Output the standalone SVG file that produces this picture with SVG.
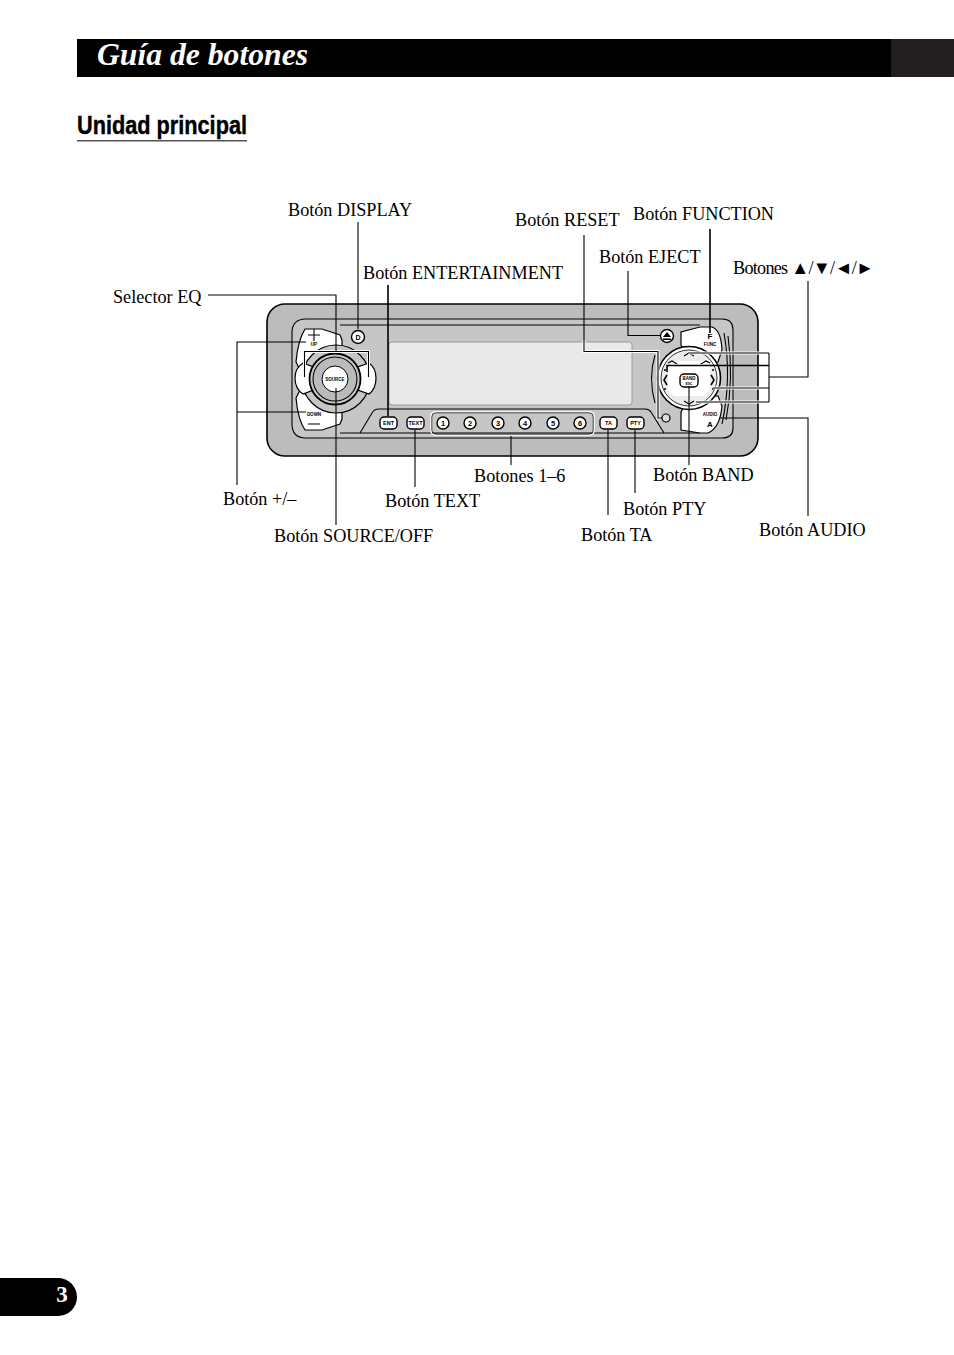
<svg xmlns="http://www.w3.org/2000/svg" width="954" height="1355" viewBox="0 0 954 1355">
<style>
.lb{font-family:"Liberation Serif","Times New Roman",serif;font-size:18.2px;fill:#000}
.dv{font-family:"Liberation Sans",Arial,sans-serif;font-weight:bold;fill:#000;text-anchor:middle}
.ln{fill:none;stroke:#000;stroke-width:1.1}
.th{fill:none;stroke:#000;stroke-width:1.6}
.ol{stroke:#000;stroke-width:1.2;fill:#fff}
.pl{fill:none;stroke:#000;stroke-width:1.1}
.btn{fill:#fff;stroke:#000;stroke-width:1.4}
.halo{fill:none;stroke:#fff;stroke-width:3}
</style>
<rect width="954" height="1355" fill="#fff"/>
<g id="header">
<rect x="77" y="39" width="814" height="38" fill="#000"/>
<rect x="891" y="39" width="63" height="38" fill="#231f20"/>
<text x="97" y="65" font-family="Liberation Serif" font-size="32" font-weight="bold" font-style="italic" fill="#fff" textLength="211" lengthAdjust="spacingAndGlyphs">Guía de botones</text>
</g>
<g id="heading">
<text x="77" y="134" font-family="Liberation Sans" font-size="25" font-weight="bold" fill="#000" stroke="#000" stroke-width="0.4" textLength="170" lengthAdjust="spacingAndGlyphs">Unidad principal</text>
<rect x="77" y="140" width="170" height="1.5" fill="#555"/>
</g>
<g id="page-tab">
<path d="M0 1278H58a19 19 0 0 1 19 19a19 19 0 0 1-19 19H0Z" fill="#000"/>
<text x="62" y="1302" font-family="Liberation Serif" font-size="23" font-weight="bold" fill="#fff" text-anchor="middle">3</text>
</g>
<g id="device">
<rect x="267" y="304" width="491" height="152" rx="18" fill="#bcbcbc" stroke="#000" stroke-width="1.6"/>
<path d="M306 319H722Q733 319 733 330V428Q733 438 722 438H306Q292 438 292 424V333Q292 319 306 319Z" fill="#c6c6c6" stroke="#000" stroke-width="1.1"/>
<path d="M340 325H700M340 433H700" class="pl"/>
<rect id="display" x="389" y="342" width="243" height="63" rx="3" fill="#e9e9e9" stroke="#8a8a8a" stroke-width="0.8"/>
<path d="M360 433L372 413Q374 409 379 409H645Q649 409 651 412L664 433" class="pl"/>
</g>
<g id="left-cluster">
<path d="M305 329H322L340 335L342 340V349L320 352L300 370L296 362Q298 340 305 329Z" class="ol"/>
<path d="M305 430H322L340 424L342 419V409L320 406L300 390L296 398Q298 420 305 430Z" class="ol"/>
<path d="M308 335H320M314 329V341M308 424H320" class="ln"/>
<text class="dv" x="314" y="346" font-size="4.500">UP</text>
<text class="dv" x="314" y="416" font-size="4.500">DOWN</text>
<circle cx="336" cy="379" r="34" fill="#c6c6c6" stroke="#000" stroke-width="1.2"/>
<path d="M303 363Q295 368 295 378Q295 389 303 394L316 389V368Z" class="ol" stroke-width="1"/>
<path d="M369 363Q376 368 376 378Q376 389 369 394L355 389V368Z" class="ol" stroke-width="1"/>
<circle cx="335" cy="379" r="25.500" fill="#c6c6c6" stroke="#000" stroke-width="1.800"/>
<circle cx="335" cy="379" r="22" fill="#bbb" stroke="#000" stroke-width="1.100"/>
<circle cx="335" cy="379" r="13" fill="#fff" stroke="#000" stroke-width="1"/>
<text class="dv" x="335" y="381" font-size="4.500">SOURCE</text>
</g>
<g id="display-button"><circle cx="358" cy="337" r="6.500" class="btn"/><text class="dv" x="358" y="340" font-size="7">D</text></g>
<g id="ent-button"><rect x="380" y="417" width="17" height="12" rx="4" class="btn"/><text class="dv" x="388.500" y="425" font-size="5.500">ENT</text></g>
<g id="text-button"><rect x="407" y="417" width="17" height="12" rx="4" class="btn"/><text class="dv" x="415.500" y="425" font-size="5.500">TEXT</text></g>
<g id="presets">
<rect x="431" y="412" width="163" height="23" rx="4" fill="none" stroke="#fff" stroke-width="1.500"/>
<rect x="431.800" y="412.800" width="161.400" height="21.400" rx="4" fill="none" stroke="#000" stroke-width="0.7"/>
<circle cx="443" cy="423" r="6" class="btn"/><text class="dv" x="443" y="426" font-size="7.500">1</text>
<circle cx="470" cy="423" r="6" class="btn"/><text class="dv" x="470" y="426" font-size="7.500">2</text>
<circle cx="498" cy="423" r="6" class="btn"/><text class="dv" x="498" y="426" font-size="7.500">3</text>
<circle cx="525" cy="423" r="6" class="btn"/><text class="dv" x="525" y="426" font-size="7.500">4</text>
<circle cx="553" cy="423" r="6" class="btn"/><text class="dv" x="553" y="426" font-size="7.500">5</text>
<circle cx="580" cy="423" r="6" class="btn"/><text class="dv" x="580" y="426" font-size="7.500">6</text>
</g>
<g id="ta-button"><rect x="600" y="417" width="17" height="12" rx="4" class="btn"/><text class="dv" x="608.500" y="425" font-size="5.500">TA</text></g>
<g id="pty-button"><rect x="627" y="417" width="17" height="12" rx="4" class="btn"/><text class="dv" x="635.500" y="425" font-size="5.500">PTY</text></g>
<g id="reset-button"><circle cx="666" cy="418" r="4" fill="#ddd" stroke="#000" stroke-width="1.200"/></g>
<g id="eject-button"><circle cx="667" cy="336" r="6.500" class="btn"/><path d="M663 337L667 332L671 337ZM663 338.500H671V340H663Z" fill="#000"/></g>
<g id="right-cluster">
<path d="M724 333Q732 378 722 424M728 336Q734 378 726 420" class="pl"/>
<path d="M681 338V332L700 327H712Q721 330 722 350L718 362H690L681 345Z" class="ol"/>
<path d="M681 420V430L700 433H708Q720 428 722 406L718 396H690L681 412Z" class="ol"/>
<text class="dv" x="710" y="339" font-size="8">F</text>
<text class="dv" x="710" y="346" font-size="4.500">FUNC</text>
<text class="dv" x="710" y="416" font-size="4.500">AUDIO</text>
<text class="dv" x="710" y="427" font-size="8">A</text>
<path d="M655 355Q648 378 655 403" class="pl"/>
<circle cx="689" cy="378" r="31.500" fill="#fff" stroke="#000" stroke-width="1.600"/>
<circle cx="689" cy="378" r="28" fill="#ececec" stroke="#000" stroke-width="0.800"/>
<path d="M674 361H704L710 368V390L704 396H674L668 390V368Z" fill="#fff" stroke="none"/>
<path d="M684 356L689 353L694 356M668 363L672 361L677 364M701 364L706 361L710 363M684 401L689 404L694 401" class="pl"/>
<path d="M667 375L664 380L667 385M711 375L714 380L711 385" fill="none" stroke="#000" stroke-width="1.600"/>
<circle cx="665" cy="370" r="1" fill="#000"/><circle cx="665" cy="389" r="1" fill="#000"/><circle cx="713" cy="370" r="1" fill="#000"/><circle cx="713" cy="389" r="1" fill="#000"/>
<rect x="680" y="374" width="18" height="13" rx="4" class="btn"/>
<text class="dv" x="689" y="380" font-size="4.500">BAND</text>
<text class="dv" x="689" y="385" font-size="3.500" font-weight="normal">ESC</text>
</g>
<g id="connectors">
<path class="halo" d="M304.500 377V351.500H368.500V377"/>
<path class="ln" d="M304.500 377V351.500H368.500V377"/>
<path class="ln" d="M358 222V329"/>
<path class="ln" d="M208 295H336V351"/>
<path class="th" d="M388 285V416"/>
<path class="ln" d="M628 271V335.500H660"/>
<path class="halo" d="M584 340V351.500H658V418H661" stroke-width="2.500"/>
<path class="ln" d="M584 235V351.500H658V418H662"/>
<path class="th" d="M710 229V333"/>
<path class="ln" d="M808 281V377H769"/>
<path class="halo" d="M688 353H769M713 388H769M696 402H769"/>
<path class="ln" d="M688 353H769M713 388H769M696 402H769M769 353V402"/>
<path class="th" d="M667 372V365.500H769"/>
<path class="ln" d="M808 516V418H719"/>
<path class="ln" d="M689 386V465"/>
<path class="ln" d="M635 430V493"/>
<path class="ln" d="M608 430V515"/>
<path class="ln" d="M511 436V465"/>
<path class="ln" d="M415 430V487"/>
<path class="ln" d="M336 388V525"/>
<path class="ln" d="M306 342H237V485M237 412H306"/>
</g>
<g id="labels">
<text class="lb" x="288" y="215.500">Botón DISPLAY</text>
<text class="lb" x="515" y="225.500">Botón RESET</text>
<text class="lb" x="633" y="219.500">Botón FUNCTION</text>
<text class="lb" x="599" y="262.500">Botón EJECT</text>
<text class="lb" x="733" y="273.500" textLength="141">Botones ▲/▼/◄/►</text>
<text class="lb" x="363" y="278.500">Botón ENTERTAINMENT</text>
<text class="lb" x="113" y="302.500">Selector EQ</text>
<text class="lb" x="474" y="481.500">Botones 1–6</text>
<text class="lb" x="653" y="480.500">Botón BAND</text>
<text class="lb" x="223" y="504.500">Botón +/–</text>
<text class="lb" x="385" y="506.500">Botón TEXT</text>
<text class="lb" x="623" y="514.500">Botón PTY</text>
<text class="lb" x="759" y="535.500">Botón AUDIO</text>
<text class="lb" x="274" y="541.500">Botón SOURCE/OFF</text>
<text class="lb" x="581" y="540.500">Botón TA</text>
</g>
</svg>
